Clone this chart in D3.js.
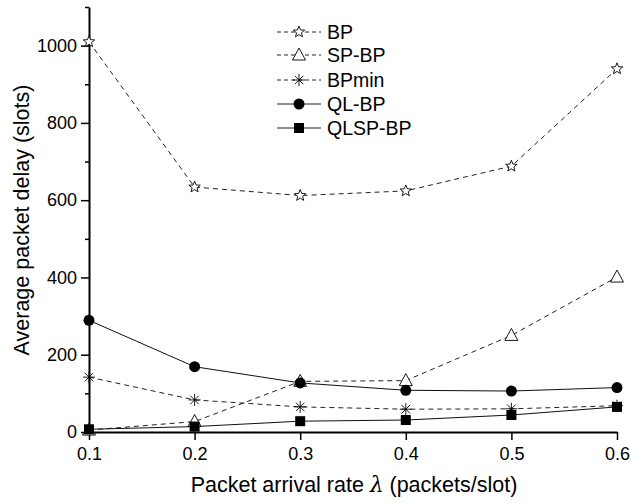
<!DOCTYPE html>
<html>
<head>
<meta charset="utf-8">
<script src="https://cdn.jsdelivr.net/npm/d3@7"></script>
<style>
body { margin: 0; background: #fff; }
text { font-family: "Liberation Sans", Arial, sans-serif; fill: #000; }
</style>
</head>
<body>
<svg id="chart" width="631" height="504"></svg>
<script>
const rates = [0.1, 0.2, 0.3, 0.4, 0.5, 0.6];
const bp      = [1010, 634, 612, 624, 688, 940];
const spbp    = [5, 27, 131, 133, 250, 401];
const bpmin   = [142, 83, 65, 59, 60, 68];
const qlbp    = [289, 169, 127, 108, 106, 115];
const qlspbp  = [7, 14, 28, 31, 44, 65];
const xTicks = [0.1, 0.2, 0.3, 0.4, 0.5, 0.6];
const yTicks = [0, 200, 400, 600, 800, 1000];
const yMinor = [100, 300, 500, 700, 900, 1100];

const series = [
  { name: "BP", values: bp, dashed: true, marker: "star" },
  { name: "SP-BP", values: spbp, dashed: true, marker: "triangle" },
  { name: "BPmin", values: bpmin, dashed: true, marker: "asterisk" },
  { name: "QL-BP", values: qlbp, dashed: false, marker: "circle" },
  { name: "QLSP-BP", values: qlspbp, dashed: false, marker: "square" }
];

const svg = d3.select("#chart");
const x = d3.scaleLinear().domain([0.1, 0.6]).range([89, 617]);
const y = d3.scaleLinear().domain([0, 1100]).range([432, 7]);

// axes
const xAxis = d3.axisBottom(x).tickValues(xTicks).tickFormat(d3.format(".1f")).tickSizeInner(8).tickSizeOuter(0).tickPadding(7);
const gx = svg.append("g").attr("transform", "translate(0,432)").call(xAxis);
gx.select(".domain").attr("stroke", "#000").attr("stroke-width", 2);
gx.selectAll(".tick line").attr("stroke-width", 1.5);
gx.selectAll("text").attr("font-size", 18).attr("fill", "#000");

const yAxis = d3.axisLeft(y).tickValues(yTicks).tickFormat(d3.format("d")).tickSizeInner(8).tickSizeOuter(0).tickPadding(4);
const gy = svg.append("g").attr("transform", "translate(89,0)").call(yAxis);
gy.select(".domain").attr("stroke", "#000").attr("stroke-width", 2);
gy.selectAll(".tick line").attr("stroke-width", 1.5);
gy.selectAll("text").attr("font-size", 18).attr("fill", "#000");

const yAxisMinor = d3.axisLeft(y).tickValues(yMinor).tickSize(4).tickFormat("");
const gym = svg.append("g").attr("transform", "translate(89,0)").call(yAxisMinor);
gym.select(".domain").remove();
gym.selectAll(".tick line").attr("stroke-width", 1.5);

// titles
svg.append("text")
  .attr("x", 354).attr("y", 492)
  .attr("text-anchor", "middle")
  .attr("font-size", 21.5)
  .html('Packet arrival rate <tspan font-family="DejaVu Serif" font-style="italic">λ</tspan> (packets/slot)');

svg.append("text")
  .attr("transform", "translate(29,220) rotate(-90)")
  .attr("text-anchor", "middle")
  .attr("font-size", 21.5)
  .text("Average packet delay (slots)");

// markers
function drawMarker(g, type, cx, cy) {
  if (type === "star") {
    const pts = [];
    for (let i = 0; i < 10; i++) {
      const r = i % 2 === 0 ? 6 : 2.6;
      const a = -Math.PI / 2 + i * Math.PI / 5;
      pts.push([cx + r * Math.cos(a), cy + r * Math.sin(a)]);
    }
    g.append("polygon").attr("points", pts.map(p => p.join(",")).join(" "))
      .attr("fill", "#fff").attr("stroke", "#000").attr("stroke-width", 0.9);
  } else if (type === "triangle") {
    g.append("polygon")
      .attr("points", [[cx, cy - 7], [cx - 6.5, cy + 5], [cx + 6.5, cy + 5]].map(p => p.join(",")).join(" "))
      .attr("fill", "#fff").attr("stroke", "#000").attr("stroke-width", 0.9);
  } else if (type === "asterisk") {
    const r = 6;
    for (let i = 0; i < 4; i++) {
      const a = i * Math.PI / 4;
      g.append("line")
        .attr("x1", cx - r * Math.sin(a)).attr("y1", cy - r * Math.cos(a))
        .attr("x2", cx + r * Math.sin(a)).attr("y2", cy + r * Math.cos(a))
        .attr("stroke", "#000").attr("stroke-width", 0.9);
    }
  } else if (type === "circle") {
    g.append("circle").attr("cx", cx).attr("cy", cy).attr("r", 5.5).attr("fill", "#000");
  } else if (type === "square") {
    g.append("rect").attr("x", cx - 5).attr("y", cy - 5).attr("width", 10).attr("height", 10).attr("fill", "#000");
  }
}

const line = d3.line().x((d, i) => x(rates[i])).y(d => y(d));
const plot = svg.append("g");
series.forEach(s => {
  plot.append("path")
    .attr("d", line(s.values))
    .attr("fill", "none")
    .attr("stroke", s.dashed ? "#222" : "#111")
    .attr("stroke-width", 1)
    .attr("stroke-dasharray", s.dashed ? "5,4" : null);
});
series.forEach(s => {
  const g = plot.append("g");
  s.values.forEach((v, i) => drawMarker(g, s.marker, x(rates[i]), y(v)));
});

// legend
const legendRows = [32, 55, 80, 104, 128];
const leg = svg.append("g");
series.forEach((s, i) => {
  const ly = legendRows[i];
  leg.append("line")
    .attr("x1", 277).attr("x2", 321).attr("y1", ly).attr("y2", ly)
    .attr("stroke", "#222").attr("stroke-width", 1)
    .attr("stroke-dasharray", s.dashed ? "4,3" : null);
  const mg = leg.append("g");
  drawMarker(mg, s.marker, 299, ly);
  leg.append("text")
    .attr("x", 327).attr("y", ly + 7)
    .attr("font-size", 19.5)
    .text(s.name);
});
</script>
</body>
</html>
